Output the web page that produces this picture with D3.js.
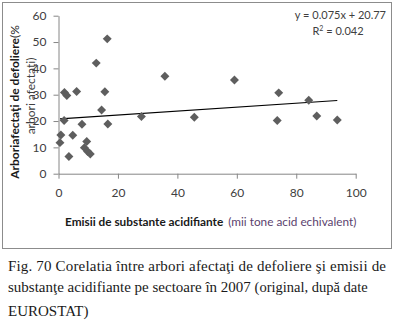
<!DOCTYPE html>
<html><head><meta charset="utf-8">
<script src="https://cdn.jsdelivr.net/npm/d3@7"></script>
<style>body{margin:0;background:#fff}svg{display:block}</style>
</head><body>
<svg id="c" width="398" height="323"></svg>
<script>
const emissions = [0.5,0.8,2.0,2.8,1.9,3.5,4.8,6.1,7.9,8.7,9.5,9.8,10.7,12.7,14.5,15.6,16.4,16.6,27.9,35.8,45.7,59.2,74.1,73.6,84.2,86.9,93.8];
const defoliation = [11.8,14.7,30.8,29.7,20.2,6.5,14.6,31.2,18.8,9.9,12.2,8.4,7.5,42.0,24.2,31.1,51.2,18.9,21.7,37.0,21.4,35.6,30.7,20.2,27.9,21.9,20.4];
const xTicks = [0,20,40,60,80,100];
const yTicks = [0,10,20,30,40,50,60];
const slope = 0.075, intercept = 20.77;

const svg = d3.select("#c");
const x = d3.scaleLinear().domain([0,100]).range([58.5,355.7]);
const y = d3.scaleLinear().domain([0,60]).range([173.7,15.7]);
const font = "Lato, 'Open Sans', sans-serif";

// frame
svg.append("rect").attr("x",2.5).attr("y",2.5).attr("width",389).attr("height",246)
  .attr("fill","#fff").attr("stroke","#8c8c8c").attr("stroke-width",1);

// axes
const xa = svg.append("g").attr("transform",`translate(0,${y(0)})`)
  .call(d3.axisBottom(x).tickValues(xTicks).tickSize(5).tickSizeOuter(0).tickPadding(10));
const ya = svg.append("g").attr("transform",`translate(${x(0)},0)`)
  .call(d3.axisLeft(y).tickValues(yTicks).tickSize(5).tickSizeOuter(0).tickPadding(7));
[xa,ya].forEach(g=>{
  g.select(".domain").attr("stroke","#868686");
  g.selectAll(".tick line").attr("stroke","#868686");
  g.selectAll(".tick text").attr("font-family",font).attr("font-size",12).attr("fill","#404040");
});

// trend line
const xs = emissions;
svg.append("line")
  .attr("x1",x(d3.min(xs))).attr("y1",y(slope*d3.min(xs)+intercept))
  .attr("x2",x(d3.max(xs))).attr("y2",y(slope*d3.max(xs)+intercept))
  .attr("stroke","#000").attr("stroke-width",1.1);

// markers
const sym = d3.symbol(d3.symbolSquare, 40);
svg.append("g").selectAll("path").data(emissions.map((e,i)=>[e,defoliation[i]])).join("path")
  .attr("d",sym)
  .attr("transform",d=>`translate(${x(d[0])},${y(d[1])}) rotate(45)`)
  .attr("fill","#5e5e5e");

// equation
svg.append("text").attr("x",386).attr("y",19).attr("text-anchor","end")
  .attr("font-family",font).attr("font-size",11).attr("fill","#404040")
  .text("y = 0.075x + 20.77");
const r = svg.append("text").attr("x",338).attr("y",35).attr("text-anchor","middle")
  .attr("font-family",font).attr("font-size",11).attr("fill","#404040");
r.append("tspan").text("R");
r.append("tspan").attr("dy",-4).attr("font-size",7).text("2");
r.append("tspan").attr("dy",4).text(" = 0.042");

// y title
const yt = svg.append("text").attr("transform","translate(19,102) rotate(-90)")
  .attr("text-anchor","middle").attr("font-family",font).attr("font-size",12).attr("fill","#1a1a1a");
yt.append("tspan").attr("font-weight","bold").text("Arboriafectaţi de defoliere");
yt.append("tspan").text("(%");
svg.append("text").attr("transform","translate(35,96) rotate(-90)")
  .attr("text-anchor","middle").attr("font-family",font).attr("font-size",12).attr("fill","#404040")
  .text("arbori afectaţi)");

// x title
const xt = svg.append("text").attr("x",65).attr("y",226).attr("font-family",font).attr("fill","#1a1a1a");
xt.append("tspan").attr("font-weight","bold").attr("font-size",11.8).text("Emisii de substante acidifiante");
xt.append("tspan").attr("font-size",11.8).attr("fill","#5b3f6e").attr("dx",5).text("(mii tone acid echivalent)");

// caption
const cf = "'Liberation Serif', 'Times New Roman', serif";
svg.append("text").attr("x",8).attr("y",271).attr("font-family",cf).attr("font-size",15).attr("fill","#1a1a1a")
  .attr("textLength",378).attr("lengthAdjust","spacing")
  .text("Fig. 70 Corelatia între arbori afectaţi de defoliere şi emisii de");
const c2 = svg.append("text").attr("x",8).attr("y",292).attr("font-family",cf).attr("fill","#1a1a1a");
c2.append("tspan").attr("font-size",15).text("substanţe acidifiante pe sectoare în 2007 ");
c2.append("tspan").attr("font-size",14.5).text("(original, după date");
svg.append("text").attr("x",8).attr("y",316).attr("font-family",cf).attr("font-size",15).attr("fill","#1a1a1a")
  .text("EUROSTAT)");
</script>
</body></html>
